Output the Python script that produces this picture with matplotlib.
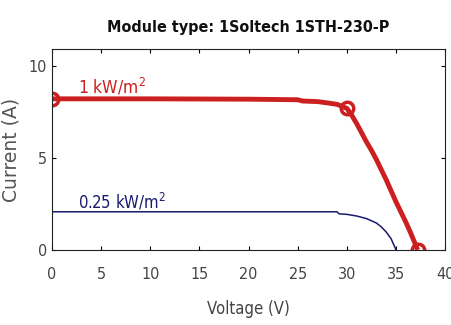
import matplotlib
matplotlib.use('Agg')
from matplotlib import pyplot as plt
import numpy as np

# I-V curve at 1 kW/m^2
v_1000 = [0, 5, 10, 15, 20, 25, 25.5, 27, 28, 29, 30, 30.5, 31, 31.5, 32, 32.5, 33, 33.5, 34, 34.5, 35, 35.5, 36, 36.5, 37.2]
i_1000 = [8.2, 8.2, 8.2, 8.19, 8.18, 8.15, 8.08, 8.05, 7.98, 7.9, 7.68, 7.3, 6.85, 6.35, 5.85, 5.4, 4.9, 4.35, 3.8, 3.2, 2.6, 2.05, 1.5, 0.9, 0]

# I-V curve at 0.25 kW/m^2
v_250 = [0, 10, 20, 29, 29.2, 30, 31, 32, 33, 33.5, 34, 34.5, 35]
i_250 = [2.07, 2.07, 2.07, 2.07, 1.96, 1.93, 1.84, 1.7, 1.46, 1.25, 0.97, 0.6, 0]

# marked points: Isc, MPP, Voc
v_marks = [0, 30, 37.2]
i_marks = [8.2, 7.68, 0]

plt.rcParams['font.family'] = ['DejaVu Sans']
plt.rcParams['font.stretch'] = 'condensed'

fig = plt.figure(figsize=(4.52, 3.25), dpi=100)
ax = fig.add_axes([0.115, 0.231, 0.87, 0.618])

ax.plot(v_1000, i_1000, color='#cc1f1f', lw=3.5, solid_capstyle='butt')
ax.plot(v_marks, i_marks, 'o', color='#cc1f1f', ms=9, mfc='none', mew=2.5)
ax.plot(v_250, i_250, color='#1a1a6e', lw=1.1)

ax.text(2.6, 8.25, '1 kW/m$^2$', color='#cc1f1f', fontsize=12.5, va='bottom')
ax.text(2.6, 2.05, '0.25 kW/m$^2$', color='#1a1a6e', fontsize=12, va='bottom')

ax.set_xlim(0, 40)
ax.set_ylim(0, 10.9)
ax.set_xticks(np.arange(0, 41, 5))
ax.set_yticks([0, 5, 10])
ax.tick_params(direction='in', top=True, right=True, labelsize=11.5, labelcolor='#444444', length=3)
ax.tick_params(axis='x', pad=12)
for s in ax.spines.values():
    s.set_color('#222222')

ax.set_xlabel('Voltage (V)', fontsize=12, color='#444444', labelpad=13)
ax.set_ylabel('Current (A)', fontsize=13.5, color='#555555', stretch='normal', labelpad=6)
ax.set_title('Module type: 1Soltech 1STH-230-P', fontsize=11.5, fontweight='bold', color='#111111', pad=12)

fig.savefig('out.png', dpi=100)
